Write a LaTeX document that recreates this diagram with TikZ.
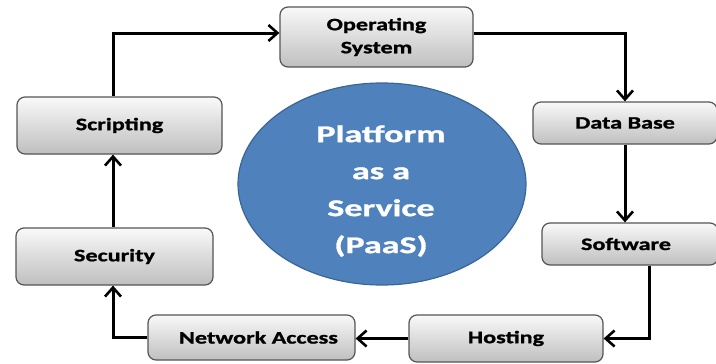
\documentclass[tikz,border=0pt]{standalone}
\usepackage{fontspec}
\setmainfont{Carlito}[FakeStretch=1.38,BoldFeatures={FakeBold=1.2}]
\newfontfamily\paasfont{Carlito}[FakeStretch=1.5,BoldFeatures={FakeBold=1.2}]
\usetikzlibrary{arrows.meta,shapes.geometric,calc}
\definecolor{paasblue}{HTML}{4F81BD}
\definecolor{paasedge}{HTML}{3A6696}
\definecolor{boxedge}{HTML}{555555}
\tikzset{
  box/.style={draw=boxedge, line width=1.2pt, rounded corners=8pt,
    top color=white!95!gray, bottom color=black!25, shading angle=0,
    font=\bfseries\fontsize{17.5}{23}\selectfont, align=center, inner sep=0pt},
  paas/.style={ellipse, draw=paasedge, line width=1.2pt, fill=paasblue,
    minimum width=288pt, minimum height=202pt, inner sep=0pt},
  paastext/.style={text=white, font=\paasfont\bfseries\fontsize{24}{37}\selectfont, align=center},
  flow/.style={draw=black, line width=3pt, rounded corners=0pt,
    -{Straight Barb[length=9pt,width=16pt,line width=2.6pt]}}
}
\begin{document}
\begin{tikzpicture}[x=1pt,y=-1pt]
\useasboundingbox (0,0) rectangle (716,364);
\clip (0,0) rectangle (716,364);
\fill[white] (0,0) rectangle (716,364);

\node[paas] (paas) at (382,184) {};
\node[paastext] (paastxt) at (381,191) {Platform\\as a\\Service\\(PaaS)};

\node[box, minimum width=193pt, minimum height=60pt] (os) at (376.5,37) {Operating\\System};
\node[box, minimum width=205pt, minimum height=57pt] (scr) at (119.5,125.5) {Scripting};
\node[box, minimum width=184pt, minimum height=42pt] (db) at (625,123) {Data Base};
\node[box, minimum width=176pt, minimum height=42pt] (sw) at (630,244) {Software\hspace*{8pt}};
\node[box, minimum width=194pt, minimum height=47pt] (host) at (506,338.5) {Hosting};
\node[box, minimum width=207pt, minimum height=45pt] (net) at (251.5,337.5) {\hspace*{14pt}Network Access};
\node[box, minimum width=197pt, minimum height=57pt] (sec) at (114.5,256.5) {Security};

\coordinate (scrtop) at (113,0);
\draw[flow] (scr.north -| scrtop) |- ([yshift=4pt]os.west);
\draw[flow] ([yshift=4pt]os.east) -| (db.north);
\draw[flow] (db.south) -- (db.south |- sw.north);
\coordinate (swout) at (649,0);
\draw[flow] (sw.south -| swout) |- (host.east);
\draw[flow] (host.west) -- (host.west -| net.east);
\draw[flow] (net.west) -| (sec.south -| scrtop);
\draw[flow] (sec.north -| scrtop) -- (scr.south -| scrtop);
\end{tikzpicture}
\end{document}
